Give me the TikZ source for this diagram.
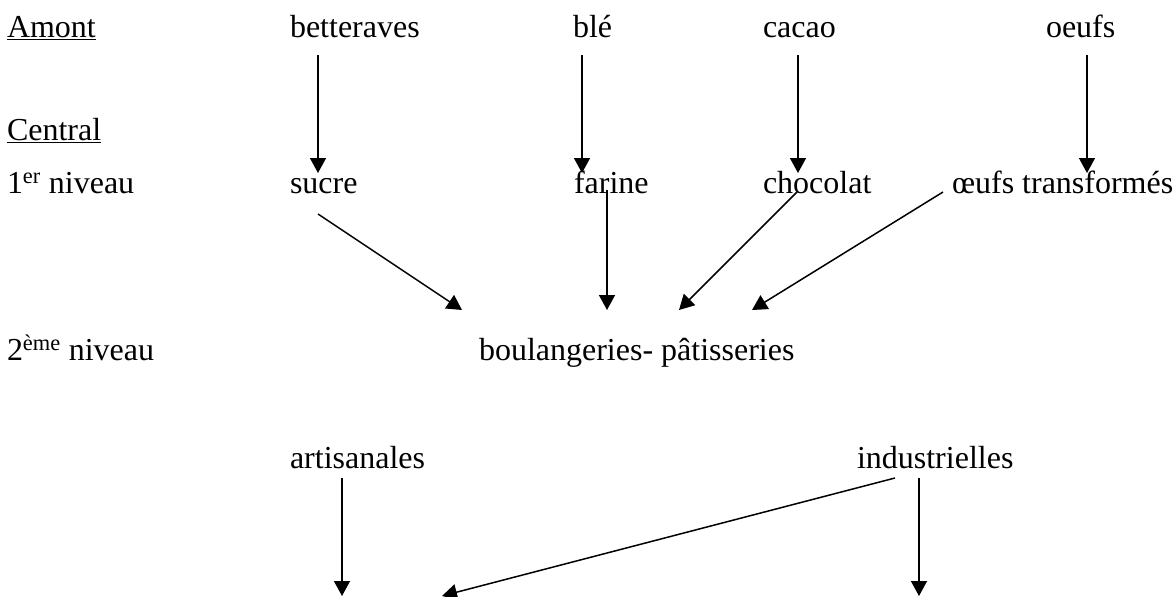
\documentclass[tikz,border=0pt]{standalone}
\usepackage{fontspec}
\setmainfont{Liberation Serif}
\usetikzlibrary{arrows.meta}
% underline drawn as a rule just below the baseline
\newcommand\undl[1]{\setbox0\hbox{#1}\rlap{\rule[-3.3pt]{\wd0}{1.3pt}}\box0}
\begin{document}
\begin{tikzpicture}[x=1pt,y=-1pt,
  lbl/.style={anchor=base west,inner sep=0pt,outer sep=0pt,
    font=\fontsize{32}{38}\selectfont},
  arr/.style={line width=1.5pt,-{Triangle[length=15pt,width=16pt]}}]
\useasboundingbox (0,0) rectangle (1176,597);

% level labels
\node[lbl] (amont)   at (7,37)  {\undl{Amont}};
\node[lbl] (central) at (7,140) {\undl{Central}};
\node[lbl] (niv1)    at (7,193) {1\textsuperscript{er} niveau};
\node[lbl] (niv2)    at (7,360) {2\textsuperscript{ème} niveau};

% raw materials
\node[lbl] (bett)  at (290,37)  {betteraves};
\node[lbl] (ble)   at (573,37)  {blé};
\node[lbl] (cacao) at (763,37)  {cacao};
\node[lbl] (oeufs) at (1046,37) {oeufs};

% first processing level
\node[lbl] (sucre)  at (290,193) {sucre};
\node[lbl] (farine) at (574,193) {farine};
\node[lbl] (choc)   at (763,193) {chocolat};
\node[lbl] (oeuft)  at (952,193) {œufs transformés};

% second level
\node[lbl] (boul)  at (479,360) {boulangeries- pâtisseries};
\node[lbl] (artis) at (290,468) {artisanales};
\node[lbl] (indus) at (857,468) {industrielles};

% loose ends at the bottom
\coordinate (outA) at (342,596);
\coordinate (outB) at (442,596);
\coordinate (outC) at (919,596);

% upstream -> first level
\draw[arr] ([shift={(28pt,-18pt)}]bett.base west)  -- ([shift={(28pt,20pt)}]sucre.base west);
\draw[arr] ([shift={(9pt,-18pt)}]ble.base west)    -- ([shift={(8pt,20pt)}]farine.base west);
\draw[arr] ([shift={(35pt,-18pt)}]cacao.base west) -- ([shift={(35pt,20pt)}]choc.base west);
\draw[arr] ([shift={(41pt,-18pt)}]oeufs.base west) -- ([shift={(135pt,20pt)}]oeuft.base west);

% first level -> bakeries
\draw[arr] ([shift={(28pt,-21pt)}]sucre.base west) -- ([shift={(-17pt,50pt)}]boul.base west);
\draw[arr] ([shift={(33pt,3pt)}]farine.base west)  -- ([shift={(128pt,50pt)}]boul.base west);
\draw[arr] ([shift={(34pt,1pt)}]choc.base west)    -- ([shift={(200pt,50pt)}]boul.base west);
\draw[arr] ([shift={(-9pt,1pt)}]oeuft.base west)   -- ([shift={(273pt,50pt)}]boul.base west);

% artisanal / industrial outputs
\draw[arr] ([shift={(52pt,-10pt)}]artis.base west) -- (outA);
\draw[arr] ([shift={(38pt,-10pt)}]indus.base west) -- (outB);
\draw[arr] ([shift={(62pt,-10pt)}]indus.base west) -- (outC);
\end{tikzpicture}
\end{document}
